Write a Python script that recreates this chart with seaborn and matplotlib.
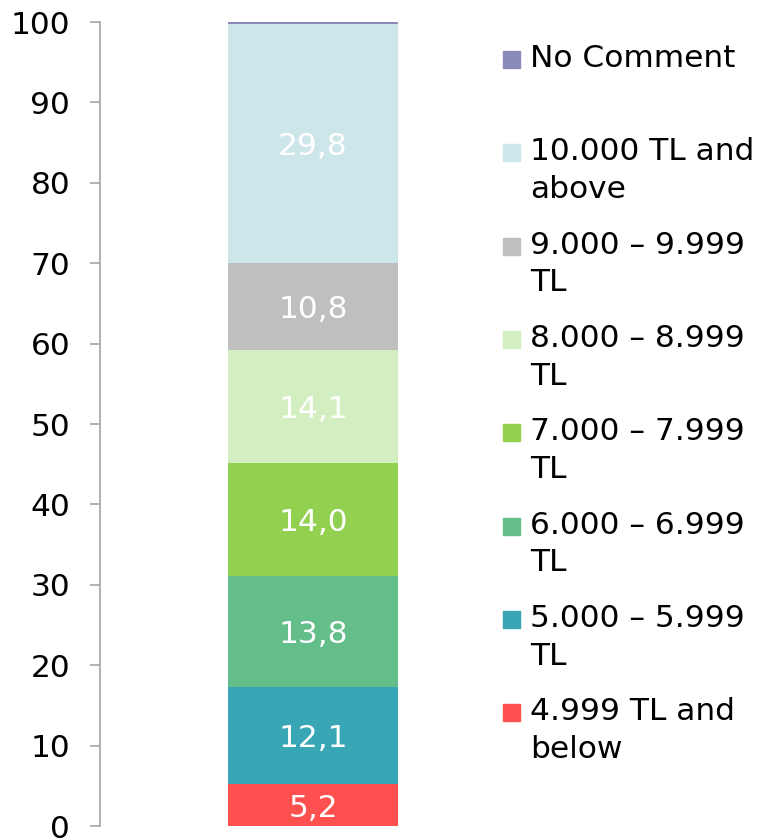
import matplotlib
matplotlib.use("Agg")
import matplotlib.pyplot as plt
from matplotlib.patches import Rectangle
import seaborn as sns
import pandas as pd
import numpy as np

# ---- data ----
categories = [
    "4.999 TL and\nbelow",
    "5.000 – 5.999\nTL",
    "6.000 – 6.999\nTL",
    "7.000 – 7.999\nTL",
    "8.000 – 8.999\nTL",
    "9.000 – 9.999\nTL",
    "10.000 TL and\nabove",
    "No Comment",
]
values = [5.2, 12.1, 13.8, 14.0, 14.1, 10.8, 29.8, 0.2]
value_labels = ["5,2", "12,1", "13,8", "14,0", "14,1", "10,8", "29,8", ""]
colors = ["#FF5050", "#38A6B5", "#63BE8A", "#92D050", "#D3EFC1",
          "#BFBFBF", "#CDE6EA", "#8A8AB8"]
yticks = [0, 10, 20, 30, 40, 50, 60, 70, 80, 90, 100]

sns.set_theme(style="white")
plt.rcParams["font.family"] = ["DejaVu Sans"]

FS = 22.5
W, H = 769, 838
fig = plt.figure(figsize=(W / 100, H / 100), dpi=100)
ax = fig.add_axes([100 / W, 12 / H, 426 / W, 804 / H])

cum = np.cumsum(values)
df = pd.DataFrame({"group": ["All"] * len(values), "segment": categories,
                   "top": cum, "value": values})

# stacked bar: draw cumulative totals from largest to smallest
for i in reversed(range(len(values))):
    sns.barplot(data=df.iloc[[i]], x="group", y="top", color=colors[i],
                saturation=1, width=0.4, linewidth=0, ax=ax, errorbar=None)

for i, lab in enumerate(value_labels):
    if lab:
        ax.text(0, cum[i] - values[i] / 2, lab, ha="center",
                va="center_baseline", color="white", fontsize=FS)

ax.set_xlim(-0.5, 0.5)
ax.set_ylim(0, 100)
ax.set_yticks(yticks)
ax.set_yticklabels([str(t) for t in yticks], fontsize=FS)
ax.set_xticks([])
ax.set_xlabel("")
ax.set_ylabel("")
for s in ["top", "right", "bottom"]:
    ax.spines[s].set_visible(False)
ax.spines["left"].set_color("#A6A6A6")
ax.spines["left"].set_linewidth(1.2)
ax.tick_params(axis="y", left=True, length=7.5, width=1.2, color="#A6A6A6",
               pad=14, labelcolor="black")

# ---- legend (top to bottom, reverse of stacking order) ----
y0, step = 68, 93.3
for k, i in enumerate(reversed(range(len(values)))):
    yb = y0 + step * k
    fig.patches.append(Rectangle((503 / W, 1 - yb / H), 17 / W, 17 / H,
                                 transform=fig.transFigure, color=colors[i],
                                 figure=fig))
    fig.text(530 / W, 1 - (yb - 24) / H, categories[i], ha="left", va="top",
             fontsize=FS, color="black", linespacing=1.38)

fig.savefig("out.png", dpi=100)
